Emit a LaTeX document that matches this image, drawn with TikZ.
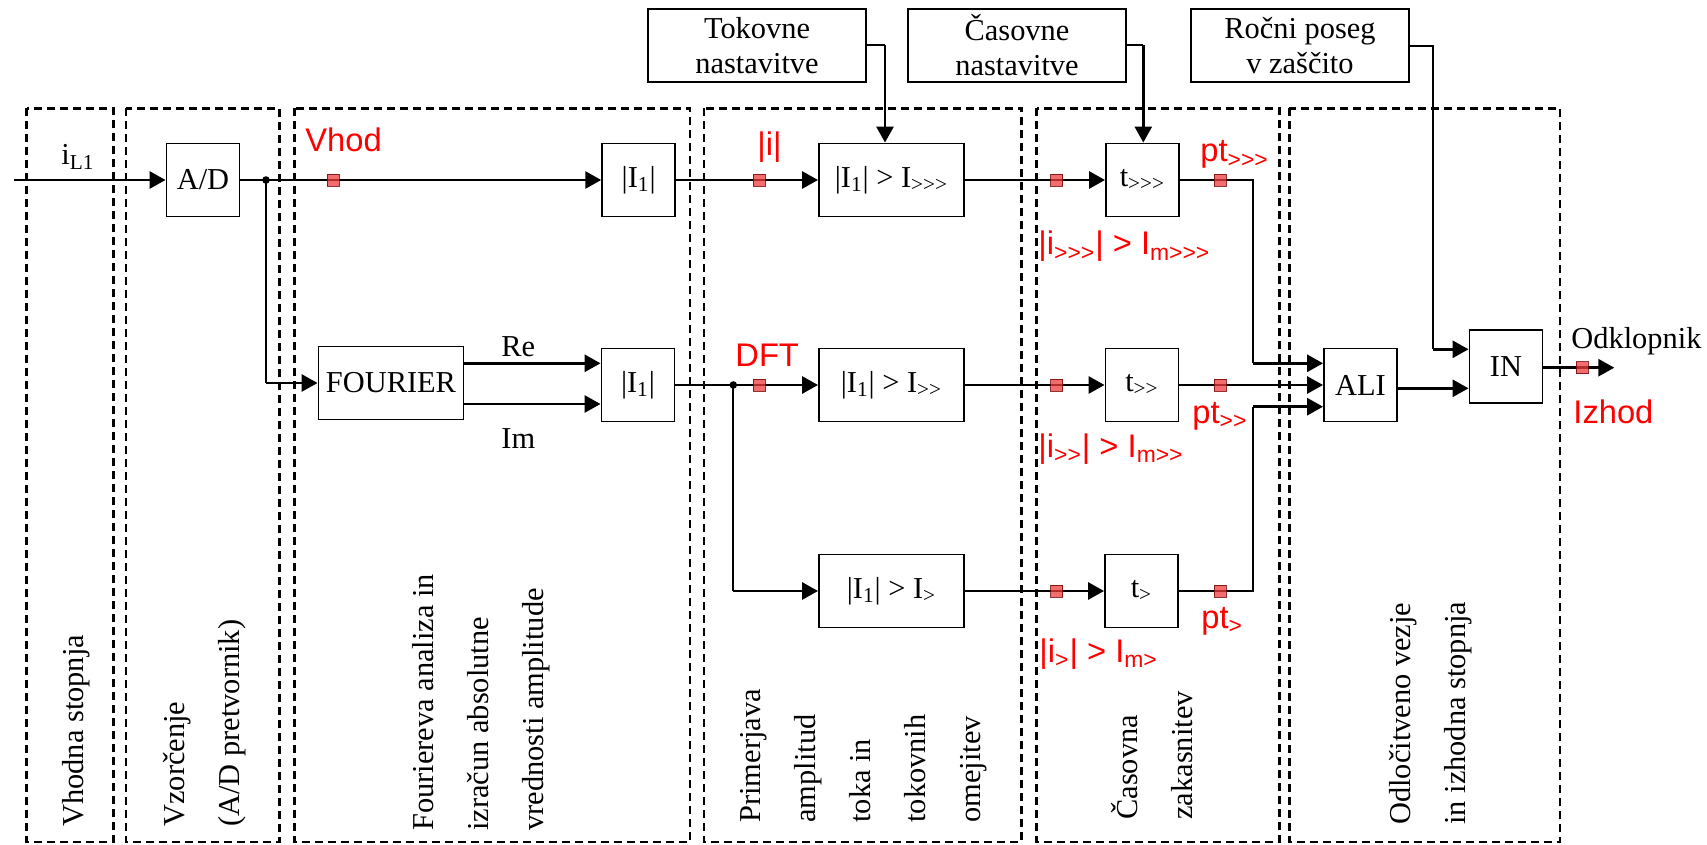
\documentclass[tikz,border=0pt]{standalone}
\usepackage{fontspec}
\setmainfont{Liberation Serif}[Ligatures=TeXOff]
\newfontfamily\arialfam{Liberation Sans}[Ligatures=TeXOff]
\usetikzlibrary{positioning,arrows.meta}
\newcommand\blkfnt{\fontsize{15.2}{17.5}\selectfont}
\newcommand\redfnt{\arialfam\fontsize{16.35}{19}\selectfont}
\tikzset{
  % --- function blocks ------------------------------------------------------
  blok/.style={rectangle,draw,line width=0.95pt,minimum width=36.5pt,
               minimum height=36.5pt,inner sep=0pt,font=\blkfnt},
  blokwide/.style={blok,minimum width=72.5pt},
  setbox/.style={blok,minimum width=109pt,align=center},
  % --- signal lines ---------------------------------------------------------
  flow/.style={line width=1.45pt,-{Triangle[length=8pt,width=8.5pt]}},
  thinl/.style={line width=0.9pt},
  dot/.style={circle,fill,inner sep=0pt,minimum size=3.8pt},
  probe/.style={rectangle,draw=red!45!black,line width=0.4pt,
                fill={rgb,255:red,238;green,60;blue,60},fill opacity=0.75,
                draw opacity=0.8,minimum size=6pt,inner sep=0pt},
  % --- stage frames and labels ----------------------------------------------
  stage/.style={draw,line width=1.35pt,dash pattern=on 4pt off 2.5pt},
  stlab/.style={rotate=90,anchor=north west,inner sep=0pt,align=left,
                font=\fontsize{15.2}{27.5}\selectfont},
  txtlab/.style={anchor=base west,inner sep=0pt,font=\blkfnt},
  redlab/.style={anchor=base west,inner sep=0pt,text=red,font=\redfnt},
}
\begin{document}
\begin{tikzpicture}[x=0.5pt,y=-0.5pt]
  \useasboundingbox (0,0) rectangle (1707,845);

  % stages
  \draw[stage] (26.7,108.3) rectangle (113.3,842);
  \draw[stage] (126,108.3) rectangle (279.3,842);
  \draw[stage] (294.3,108.3) rectangle (690,842);
  \draw[stage] (704,108.3) rectangle (1021.7,842);
  \draw[stage] (1036.7,108.3) rectangle (1279.3,842);
  \draw[stage] (1289.3,108.3) rectangle (1560,842);

  \node[stlab] (st1) at (62,827)   {Vhodna stopnja};
  \node[stlab] (st2) at (163,827)  {Vzorčenje\\(A/D pretvornik)};
  \node[stlab] (st3) at (412,831)  {Fouriereva analiza in\\izračun absolutne\\vrednosti amplitude};
  \node[stlab] (st4) at (740,823)  {Primerjava\\amplitud\\toka in\\tokovnih\\omejitev};
  \node[stlab] (st5) at (1111,820) {Časovna\\zakasnitev};
  \node[stlab] (st6) at (1389,825) {Odločitveno vezje\\in izhodna stopnja};

  % blocks
  \node[blok]     (ad)   at (203,180)    {A/D};
  \node[blok]     (abs1) at (638.7,180)  {|I\textsubscript{1}|};
  \node[blokwide] (four) at (391,383)    {FOURIER};
  \node[blok]     (abs2) at (638,385)    {|I\textsubscript{1}|};
  \node[blokwide] (thr1) at (891.5,180)  {|I\textsubscript{1}| > I\textsubscript{>>>}};
  \node[blokwide] (thr2) at (891.5,385)  {|I\textsubscript{1}| > I\textsubscript{>>}};
  \node[blokwide] (thr3) at (891.5,591)  {|I\textsubscript{1}| > I\textsubscript{>}};
  \node[blok]     (tim1) at (1142.5,180) {t\textsubscript{>>>}};
  \node[blok]     (tim2) at (1142,385)   {t\textsubscript{>>}};
  \node[blok]     (tim3) at (1141.5,591) {t\textsubscript{>}};
  \node[blok]     (ali)  at (1360.5,385) {ALI};
  \node[blok]     (inb)  at (1506,366.3) {IN};
  \node[setbox]   (tok)  at (757,45.3)   {Tokovne\\nastavitve};
  \node[setbox]   (cas)  at (1017,45.3)  {Časovne\\nastavitve};
  \node[setbox]   (roc)  at (1300,45.3)  {Ročni poseg\\v zaščito};

  \coordinate (in)  at (14,180);
  \coordinate (out) at (1614.3,367.7);
  \node[dot] (j1) at (266,180) {};
  \node[dot] (j2) at (733.3,385) {};
  \coordinate (c1) at (1252.7,363.3);
  \coordinate (c3) at (1252.7,406.7);
  \coordinate (c4) at (1433.3,349.3);
  \coordinate (c5) at (885,45.3);
  \coordinate (c6) at (1143.3,45.3);

  % signal path
  \draw[flow] (in) -- (ad);
  \draw[flow] (ad) -- (abs1);
  \draw[thinl] (j1.center) -- (j1 |- four.west);
  \draw[flow] (j1 |- four.west) -- (four.west);
  \draw[flow] (four.east |- 0,363.3) -- (abs2.west |- 0,363.3);
  \draw[flow] (four.east |- 0,404) -- (abs2.west |- 0,404);
  \draw[flow] (abs1) -- (thr1);
  \draw[flow] (abs2) -- (thr2);
  \draw[thinl] (j2.center) -- (j2 |- thr3.west);
  \draw[flow] (j2 |- thr3.west) -- (thr3.west);
  \draw[flow] (thr1) -- (tim1);
  \draw[flow] (thr2) -- (tim2);
  \draw[flow] (thr3) -- (tim3);
  \draw[thinl] (tim1.east) -| (c1);
  \draw[flow] (c1) -- (ali.west |- c1);
  \draw[flow] (tim2) -- (ali);
  \draw[thinl] (tim3.east) -| (c3);
  \draw[flow] (c3) -- (ali.west |- c3);
  \draw[flow] (ali.east |- 0,388.3) -- (inb.west |- 0,388.3);
  \draw[flow] (inb.east |- out) -- (out);
  % settings
  \draw[thinl] (tok.east) -- (c5);
  \draw[flow] (c5) -- (c5 |- thr1.north);
  \draw[thinl] (cas.east) -- (c6);
  \draw[flow] (c6) -- (c6 |- tim1.north);
  \draw[thinl] (roc.east |- 0,45.7) -| (c4);
  \draw[flow] (c4) -- (inb.west |- c4);

  % measuring points
  \node[probe] (pvhod) at (333.3,180)   {};
  \node[probe] (pabs)  at (759.3,180)   {};
  \node[probe] (pdft)  at (759.3,385)   {};
  \node[probe] (pi3)   at (1056.7,180)  {};
  \node[probe] (pi2)   at (1056.7,385)  {};
  \node[probe] (pi1)   at (1056.7,591)  {};
  \node[probe] (pt3)   at (1220,180)    {};
  \node[probe] (pt2)   at (1220,385)    {};
  \node[probe] (pt1)   at (1220,591)    {};
  \node[probe] (pout)  at (1582.3,367.7) {};

  % labels
  \node[txtlab] (lin)  at (61,165)    {i\textsubscript{L1}};
  \node[txtlab] (lre)  at (501,356)   {Re};
  \node[txtlab] (lim)  at (501,448)   {Im};
  \node[txtlab] (lodk) at (1571,348)  {Odklopnik};
  \node[redlab] (lvhod) at (305,152)  {Vhod};
  \node[redlab] (labs)  at (757,156)  {|i|};
  \node[redlab] (ldft)  at (735,366)  {DFT};
  \node[redlab] (lpt3)  at (1200,162) {pt\textsubscript{>>>}};
  \node[redlab] (lpt2)  at (1192,423) {pt\textsubscript{>>}};
  \node[redlab] (lpt1)  at (1201,628) {pt\textsubscript{>}};
  \node[redlab] (lim3)  at (1038,255) {|i\textsubscript{>>>}| > I\textsubscript{m>>>}};
  \node[redlab] (lim2)  at (1038,457) {|i\textsubscript{>>}| > I\textsubscript{m>>}};
  \node[redlab] (lim1)  at (1039,662) {|i\textsubscript{>}| > I\textsubscript{m>}};
  \node[redlab] (lizh)  at (1573,423) {Izhod};
\end{tikzpicture}
\end{document}
